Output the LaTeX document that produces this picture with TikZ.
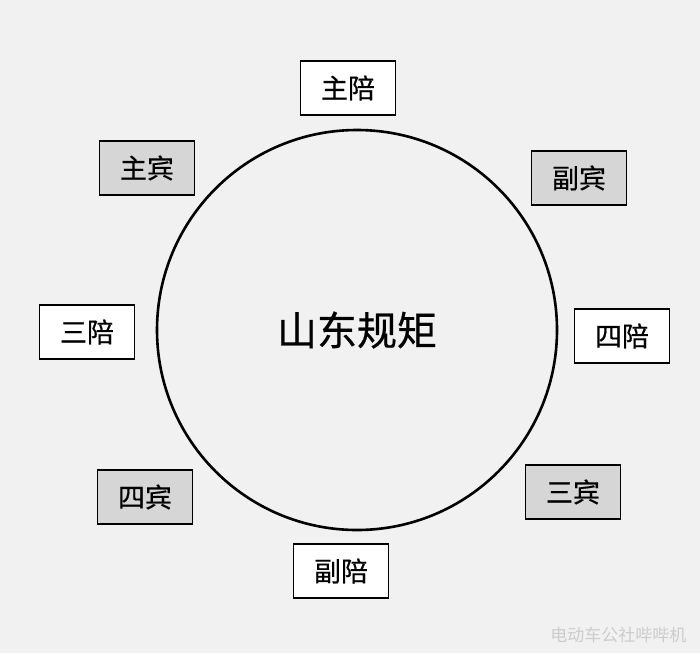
\documentclass[tikz,border=0pt]{standalone}
\usepackage{fontspec}
\setmainfont{Noto Sans CJK SC}
\newfontfamily\seatfont[FakeBold=0.5]{Noto Sans CJK SC}
\usepackage{tikz}
\usetikzlibrary{positioning}
\definecolor{paper}{RGB}{241,241,241}
\definecolor{guestgray}{RGB}{214,214,214}
\tikzset{
  % --- seats round the table ---
  hostseat/.style={draw, line width=1.6pt, fill=white, minimum width=95pt,
    minimum height=54pt, inner sep=0pt, font=\seatfont\fontsize{27}{27}\selectfont},
  guestseat/.style={hostseat, fill=guestgray},
  % --- the table ---
  table/.style={draw, circle, line width=2.6pt, minimum size=400pt, inner sep=0pt,
    font=\seatfont\fontsize{40}{40}\selectfont},
}

\begin{document}
\begin{tikzpicture}[x=1pt, y=-1pt]
    \fill[paper] (0,0) rectangle (700,653);
    \useasboundingbox (0,0) rectangle (700,653);

    % ---- Table ----
    \node[table] (tbl) at (357,330) {山东规矩};

    % ---- Hosts (white) ----
    \node[hostseat] (zhupei) at (348,88) {主陪};
    \node[hostseat] (fupei) at (341,571) {副陪};
    \node[hostseat] (sanpei) at (87,332) {三陪};
    \node[hostseat] (sipei) at (622,336) {四陪};

    % ---- Guests (grey) ----
    \node[guestseat] (zhubin) at (147,168) {主宾};
    \node[guestseat] (fubin) at (579,178) {副宾};
    \node[guestseat] (sanbin) at (573,492) {三宾};
    \node[guestseat] (sibin) at (145,497) {四宾};

    % ---- Watermark ----
    \node[anchor=east, text=gray!40, font=\fontsize{17}{17}\selectfont] (mark) at (690,635) {电动车公社哔哔机};
\end{tikzpicture}
\end{document}
